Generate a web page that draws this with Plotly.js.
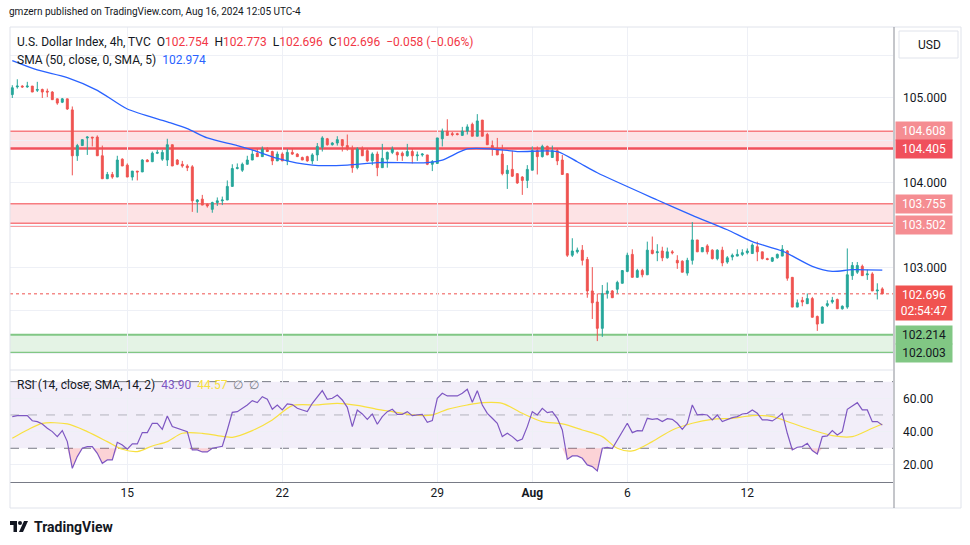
<!DOCTYPE html>
<html>
<head>
<meta charset="utf-8">
<script src="https://cdn.plot.ly/plotly-3.0.1.min.js"></script>
<style>
  html, body { margin: 0; padding: 0; background: #fff; }
  #chart { width: 970px; height: 545px; }
</style>
</head>
<body>
<div id="chart"></div>
<script>
// 4h candles, Jul 10 -> Aug 16 2024
const opens = [105.04,105.13,105.14,105.13,105.14,105.09,105.10,105.08,105.07,104.99,104.95,104.99,104.86,104.32,104.44,104.53,104.54,104.54,104.32,104.05,
  104.10,104.07,104.28,104.21,104.07,104.14,104.13,104.27,104.25,104.35,104.28,104.27,104.45,104.27,104.22,104.20,104.19,103.78,103.81,103.75,
  103.69,103.77,103.79,103.80,103.96,104.17,104.15,104.22,104.27,104.35,104.31,104.39,104.37,104.26,104.34,104.26,104.36,104.34,104.30,104.31,
  104.26,104.33,104.42,104.52,104.45,104.47,104.51,104.44,104.40,104.18,104.40,104.38,104.26,104.34,104.18,104.28,104.36,104.36,104.35,104.32,
  104.37,104.32,104.33,104.33,104.22,104.23,104.52,104.61,104.58,104.58,104.56,104.61,104.69,104.55,104.74,104.57,104.44,104.41,104.34,104.11,
  104.16,104.11,104.07,104.03,104.15,104.38,104.31,104.43,104.30,104.38,104.27,104.11,103.15,103.19,103.21,103.10,102.73,102.60,102.29,102.70,
  102.73,102.75,102.82,102.96,103.16,102.89,102.97,102.92,103.21,103.18,103.20,103.12,103.19,103.09,103.08,102.94,103.09,103.33,103.19,103.26,
  103.21,103.11,103.21,103.07,103.13,103.14,103.16,103.18,103.17,103.25,103.19,103.11,103.08,103.12,103.14,103.20,102.89,102.54,102.62,102.58,
  102.64,102.43,102.35,102.56,102.60,102.63,102.52,102.54,102.91,102.95,103.02,102.92,102.93,102.73,102.754];
const highs = [105.15,105.22,105.15,105.19,105.14,105.19,105.11,105.11,105.08,104.99,105.00,104.99,104.90,104.46,104.51,104.55,104.54,104.56,104.44,104.13,
  104.13,104.32,104.29,104.23,104.14,104.14,104.28,104.28,104.37,104.39,104.39,104.52,104.45,104.28,104.26,104.22,104.21,103.81,103.86,103.76,
  103.78,103.83,103.84,104.03,104.22,104.23,104.24,104.32,104.39,104.40,104.43,104.42,104.38,104.37,104.36,104.40,104.41,104.35,104.31,104.32,
  104.35,104.47,104.55,104.53,104.48,104.55,104.51,104.57,104.44,104.42,104.43,104.40,104.36,104.37,104.46,104.37,104.43,104.37,104.37,104.46,
  104.40,104.37,104.35,104.33,104.27,104.53,104.64,104.75,104.60,104.59,104.66,104.69,104.71,104.81,104.74,104.59,104.50,104.53,104.45,104.21,
  104.38,104.11,104.08,104.21,104.43,104.43,104.45,104.44,104.44,104.40,104.33,104.11,103.35,103.24,103.27,103.13,103.01,102.70,102.80,102.83,
  102.74,102.85,102.97,103.18,103.22,102.99,102.99,103.31,103.37,103.28,103.25,103.24,103.21,103.15,103.09,103.12,103.54,103.33,103.24,103.28,
  103.22,103.22,103.25,103.14,103.17,103.22,103.22,103.23,103.29,103.31,103.19,103.12,103.13,103.17,103.27,103.21,102.89,102.63,102.66,102.70,
  102.66,102.44,102.55,102.62,102.66,102.64,102.56,103.23,103.07,103.07,103.04,102.98,102.95,102.82,102.773];
const lows = [105.00,105.11,105.12,105.12,105.07,105.07,105.00,105.01,104.98,104.92,104.94,104.86,104.09,104.26,104.44,104.33,104.43,104.32,104.05,104.05,
  104.05,104.07,104.20,104.07,104.03,104.03,104.13,104.25,104.25,104.34,104.26,104.20,104.20,104.21,104.18,104.14,103.66,103.65,103.74,103.71,
  103.65,103.73,103.74,103.80,103.96,104.16,104.13,104.22,104.27,104.31,104.31,104.37,104.21,104.26,104.26,104.21,104.33,104.31,104.27,104.25,
  104.22,104.26,104.37,104.44,104.44,104.44,104.37,104.38,104.12,104.16,104.32,104.25,104.21,104.08,104.18,104.18,104.34,104.26,104.26,104.31,
  104.23,104.26,104.31,104.21,104.14,104.23,104.43,104.56,104.55,104.56,104.56,104.57,104.55,104.55,104.55,104.45,104.32,104.33,104.09,103.93,
  104.07,103.99,103.86,103.94,104.15,104.10,104.30,104.33,104.30,104.21,104.10,103.13,103.13,103.17,103.03,102.65,102.40,102.14,102.19,102.64,
  102.65,102.70,102.82,102.95,102.89,102.89,102.89,102.92,103.16,103.08,103.08,103.11,103.16,102.99,102.95,102.91,103.04,103.19,103.19,103.16,
  103.10,103.09,103.02,103.05,103.09,103.14,103.14,103.16,103.17,103.08,103.10,103.09,103.07,103.11,103.14,102.85,102.54,102.54,102.55,102.58,
  102.42,102.26,102.35,102.54,102.58,102.52,102.51,102.52,102.86,102.93,102.91,102.86,102.73,102.63,102.696];
const closes = [105.12,105.14,105.13,105.14,105.07,105.10,105.07,105.07,104.98,104.94,104.99,104.87,104.32,104.44,104.51,104.54,104.53,104.32,104.05,104.10,
  104.07,104.27,104.20,104.07,104.14,104.13,104.27,104.25,104.35,104.36,104.36,104.45,104.20,104.22,104.20,104.18,103.79,103.80,103.74,103.73,
  103.77,103.79,103.80,103.96,104.17,104.18,104.22,104.27,104.34,104.31,104.40,104.37,104.26,104.34,104.26,104.36,104.34,104.31,104.27,104.26,
  104.33,104.43,104.53,104.45,104.47,104.51,104.44,104.40,104.18,104.40,104.32,104.26,104.34,104.18,104.29,104.36,104.40,104.33,104.32,104.37,
  104.32,104.33,104.34,104.22,104.25,104.53,104.61,104.56,104.57,104.57,104.61,104.66,104.55,104.73,104.55,104.45,104.40,104.33,104.11,104.15,
  104.08,104.00,104.03,104.16,104.38,104.31,104.43,104.33,104.38,104.26,104.10,103.15,103.20,103.21,103.09,102.73,102.59,102.29,102.70,102.73,
  102.65,102.83,102.97,103.15,102.89,102.97,102.92,103.21,103.17,103.19,103.12,103.19,103.18,103.06,102.95,103.09,103.33,103.19,103.24,103.19,
  103.11,103.21,103.06,103.12,103.15,103.16,103.18,103.20,103.27,103.19,103.11,103.10,103.12,103.16,103.22,102.88,102.54,102.59,102.60,102.64,
  102.42,102.34,102.54,102.58,102.62,102.52,102.55,102.92,103.03,103.03,102.91,102.93,102.73,102.74,102.696];

// SMA(50) overlay
const smaIdx = [0,5,11,17,23,31,35,39,45,49,53,60,67,73,83,86,91,96,101,109,113,117,129,136,143,148,154,160,164,168,174];
const smaVal = [105.44,105.33,105.24,105.09,104.87,104.72,104.64,104.53,104.44,104.37,104.29,104.21,104.21,104.24,104.24,104.27,104.40,104.40,104.37,104.37,104.25,104.12,103.80,103.62,103.45,103.31,103.20,103.02,102.96,102.98,102.974];

// RSI(14), one value per bar
const rsiVals = [49,49.6,49.6,49.6,46.5,46,44.6,42,40,37,40.6,34,18,25,30,31,31,27,21,23,
  23,33.6,32,29.4,32.6,32.6,39.4,39.4,45,45,41.4,49.4,43,42,41,40,29,29,27.8,27.8,
  30,30.4,31.2,41,51.6,52,54,56,58.6,57.4,61,59.4,53.4,56,53,56.6,56.2,54,53,52,
  57,61,64.6,59.4,60,62,59,54.6,43,53,50.6,47.4,50.6,44.4,49,52,53.4,50.4,50.4,52,
  49.6,50,50.4,45.6,46.6,60,63,61.4,61.4,61.4,63,65.4,57.6,64.6,56,51,48,45,37,39,
  37,34.4,35.6,43,52,50,54,51.4,52,48,41,23.4,25.4,25.4,24,20,19,16.4,30,30.6,
  29.8,35,39.4,45,39.4,40.6,40.4,48,47.4,47.8,46,47.8,47.4,45,41.4,45,56,50,50.4,50,
  47,50,46,47.4,48.4,49,50.6,51,53,51,47,47,46.4,48.4,51,39,29,30.6,31,33,
  28.6,26.6,37,37.4,40.6,38,40,53.4,55.4,57.4,53,53,46,46,43.9];
// RSI-based MA (14), sampled
const rsiMaIdx = [0,3,6,11,15,19,22,25,28,31,34,38,41,44,48,52,56,61,65,69,73,76,80,84,87,91,94,98,102,106,110,114,118,121,124,128,132,136,140,144,148,152,156,160,164,168,172,174];
const rsiMaVal = [36,41,45,44.6,40,34,29.4,28,31.4,34,39,39,37.6,36.6,40.6,47,55.6,56,57,55.8,53.4,52,50,50,53.4,56,57.4,57,51,46,44.6,41,37,30,28.4,34,41,45,47.4,48,49.6,49,45,41,37.6,37,42,44.57];

const tickIdx = [23, 54, 85, 104, 123, 147];
const tickLbl = ['15', '22', '29', '<b>Aug</b>', '6', '12'];

const redZones = [[104.405, 104.608], [103.525, 103.755]];
const greenZone = [102.003, 102.214];
const extraLine = 103.495;
const lastPrice = 102.696;

const bars = opens.map((_, i) => i);

// pixel -> paper helpers for the frame decorations
const px = (x) => (x - 10) / 883;
const py = (y) => (482 - y) / 455;

const FONT = 'Roboto, "Liberation Sans", sans-serif';
const RED = '#ef5350';
const GREEN = '#26a69a';

const traces = [
  {
    type: 'candlestick', x: bars, open: opens, high: highs, low: lows, close: closes,
    increasing: { line: { color: GREEN, width: 1 }, fillcolor: GREEN },
    decreasing: { line: { color: RED, width: 1 }, fillcolor: RED },
    whiskerwidth: 0, hoverinfo: 'skip', xaxis: 'x', yaxis: 'y'
  },
  {
    type: 'scatter', mode: 'lines', x: smaIdx, y: smaVal,
    line: { color: '#2962ff', width: 1.3, shape: 'spline', smoothing: 0.7 },
    xaxis: 'x', yaxis: 'y', hoverinfo: 'skip'
  },
  {
    type: 'scatter', mode: 'lines', x: bars, y: bars.map(() => 30),
    line: { width: 0 }, xaxis: 'x', yaxis: 'y2', hoverinfo: 'skip'
  },
  {
    type: 'scatter', mode: 'lines', x: bars, y: rsiVals.map(v => Math.min(v, 30)),
    line: { width: 0 }, fill: 'tonexty', fillcolor: 'rgba(242,54,69,0.22)',
    xaxis: 'x', yaxis: 'y2', hoverinfo: 'skip'
  },
  {
    type: 'scatter', mode: 'lines', x: rsiMaIdx, y: rsiMaVal,
    line: { color: '#f8e040', width: 1.2, shape: 'spline', smoothing: 0.8 },
    xaxis: 'x', yaxis: 'y2', hoverinfo: 'skip'
  },
  {
    type: 'scatter', mode: 'lines', x: bars, y: rsiVals,
    line: { color: '#7e57c2', width: 1.2 },
    xaxis: 'x', yaxis: 'y2', hoverinfo: 'skip'
  }
];

const hline = (y, color, width, dash, yref) => ({
  type: 'line', xref: 'paper', x0: 0, x1: 1, yref: yref || 'y', y0: y, y1: y,
  line: { color, width, dash: dash || 'solid' }, layer: 'between'
});

const shapes = [];
redZones.forEach(z => {
  shapes.push({ type: 'rect', xref: 'paper', x0: 0, x1: 1, yref: 'y', y0: z[0], y1: z[1],
    fillcolor: 'rgba(242,54,69,0.14)', line: { width: 0 }, layer: 'between' });
});
shapes.push(hline(104.608, '#f77c80', 1.5));
shapes.push(hline(104.405, '#f0525c', 2.5));
shapes.push(hline(103.755, '#f77c80', 1.5));
shapes.push(hline(103.525, '#f77c80', 1.5));
shapes.push(hline(extraLine, '#f77c80', 1.5));
shapes.push({ type: 'rect', xref: 'paper', x0: 0, x1: 1, yref: 'y', y0: greenZone[0], y1: greenZone[1],
  fillcolor: 'rgba(76,175,80,0.15)', line: { width: 0 }, layer: 'between' });
shapes.push(hline(greenZone[0], '#81c784', 2));
shapes.push(hline(greenZone[1], '#81c784', 2));
shapes.push(hline(lastPrice, RED, 1, 'dot'));
// RSI band + levels
shapes.push({ type: 'rect', xref: 'paper', x0: 0, x1: 1, yref: 'y2', y0: 30, y1: 70,
  fillcolor: 'rgba(126,87,194,0.1)', line: { width: 0 }, layer: 'below' });
shapes.push(hline(70, '#787b86', 1, 'dash', 'y2'));
shapes.push(hline(50, 'rgba(120,123,134,0.5)', 1, 'dash', 'y2'));
shapes.push(hline(30, '#787b86', 1, 'dash', 'y2'));
// frame, pane separator, price scale line
shapes.push({ type: 'rect', xref: 'paper', yref: 'paper', x0: 0, x1: px(961), y0: py(508), y1: 1,
  line: { color: '#e0e3eb', width: 1 }, layer: 'above' });
shapes.push({ type: 'line', xref: 'paper', yref: 'paper', x0: 0, x1: 1, y0: py(370), y1: py(370),
  line: { color: '#e0e3eb', width: 1 } });
shapes.push({ type: 'line', xref: 'paper', yref: 'paper', x0: px(894), x1: px(894), y0: py(508), y1: 1,
  line: { color: '#8a8d96', width: 1 } });
// USD button
shapes.push({ type: 'rect', xref: 'paper', yref: 'paper', x0: px(899), x1: px(958), y0: py(58), y1: py(31),
  line: { color: '#e0e3eb', width: 1 }, fillcolor: '#fff' });
// TradingView logo mark
shapes.push({ type: 'rect', xref: 'paper', yref: 'paper', x0: px(10), x1: px(17), y0: py(525), y1: py(521),
  line: { width: 0 }, fillcolor: '#131722' });
shapes.push({ type: 'rect', xref: 'paper', yref: 'paper', x0: px(13.5), x1: px(17), y0: py(532), y1: py(521),
  line: { width: 0 }, fillcolor: '#131722' });
shapes.push({ type: 'circle', xref: 'paper', yref: 'paper', x0: px(18), x1: px(22), y0: py(525), y1: py(521),
  line: { width: 0 }, fillcolor: '#131722' });
shapes.push({ type: 'path', xref: 'paper', yref: 'paper',
  path: `M ${px(19)} ${py(532)} L ${px(24)} ${py(521)} L ${px(28)} ${py(521)} L ${px(23)} ${py(532)} Z`,
  line: { width: 0 }, fillcolor: '#131722' });

const tag = (y, text, bg, color, extra) => Object.assign({
  xref: 'paper', x: 1, xanchor: 'left', xshift: 2, yref: 'y', y, yanchor: 'middle',
  text, bgcolor: bg, showarrow: false, borderpad: 2, width: 52,
  font: { family: FONT, size: 12, color }
}, extra || {});

const txt = (x, y, text, size, color, extra) => Object.assign({
  xref: 'paper', yref: 'paper', x: px(x), y: py(y), xanchor: 'left', yanchor: 'middle',
  text, showarrow: false, font: { family: FONT, size, color }
}, extra || {});

const annotations = [
  txt(7, 12, 'gmzern published on TradingView.com, Aug 16, 2024 12:05 UTC-4', 10, '#131722'),
  txt(15, 42, 'U.S. Dollar Index, 4h, TVC&nbsp;&nbsp;O<span style="color:#f23645">102.754</span>&nbsp;&nbsp;H<span style="color:#f23645">102.773</span>&nbsp;&nbsp;L<span style="color:#f23645">102.696</span>&nbsp;&nbsp;C<span style="color:#f23645">102.696</span>&nbsp;&nbsp;<span style="color:#f23645">\u22120.058 (\u22120.06%)</span>', 12, '#131722'),
  txt(15, 60, 'SMA (50, close, 0, SMA, 5)&nbsp;&nbsp;<span style="color:#2962ff">102.974</span>', 12, '#131722'),
  txt(15, 385, 'RSI (14, close, SMA, 14, 2)&nbsp;&nbsp;<span style="color:#7e57c2">43.90</span>&nbsp;&nbsp;<span style="color:#f8e040">44.57</span>&nbsp;&nbsp;<span style="color:#787b86">\u2205&nbsp;&nbsp;\u2205</span>', 12, '#131722'),
  txt(916, 45, 'USD', 12, '#131722'),
  txt(32, 527, '<b>TradingView</b>', 14, '#131722'),
  tag(104.608, '104.608', '#f58d92', '#fff'),
  tag(104.405, '104.405', '#f0505c', '#fff'),
  tag(103.755, '103.755', '#f58d92', '#fff'),
  tag(103.502, '103.502', '#f58d92', '#fff'),
  tag(lastPrice, '102.696<br>02:54:47', '#f05350', '#fff', { yanchor: 'top', yshift: 9 }),
  tag(102.214, '102.214', '#81c784', '#131722'),
  tag(102.003, '102.003', '#81c784', '#131722')
];

const layout = {
  width: 970, height: 545,
  margin: { l: 10, r: 77, t: 27, b: 63 },
  paper_bgcolor: '#fff', plot_bgcolor: '#fff',
  showlegend: false,
  boxgap: 0.45,
  font: { family: FONT, color: '#131722' },
  xaxis: {
    range: [-0.46, 176.14], anchor: 'y2',
    tickmode: 'array', tickvals: tickIdx, ticktext: tickLbl,
    showgrid: true, gridcolor: '#eef0f6', zeroline: false,
    showline: true, linecolor: '#787b86', ticks: '',
    tickfont: { size: 12, color: '#131722' },
    rangeslider: { visible: false }, fixedrange: true
  },
  yaxis: {
    domain: [0.2484, 1], range: [101.812, 105.835], side: 'right',
    tickmode: 'array',
    tickvals: [102, 102.5, 103, 103.5, 104, 104.5, 105, 105.5],
    ticktext: ['', '', '103.000', '', '104.000', '', '105.000', ''],
    showgrid: true, gridcolor: '#eef0f6', zeroline: false, ticks: '',
    ticklabelstandoff: 9, tickfont: { size: 12, color: '#131722' }, fixedrange: true
  },
  yaxis2: {
    domain: [0, 0.244], range: [9.76, 76.4], side: 'right',
    tickmode: 'array', tickvals: [20, 40, 60], ticktext: ['20.00', '40.00', '60.00'],
    showgrid: true, gridcolor: '#eef0f6', zeroline: false, ticks: '',
    ticklabelstandoff: 9, tickfont: { size: 12, color: '#131722' }, fixedrange: true
  },
  shapes,
  annotations
};

Plotly.newPlot('chart', traces, layout, { displayModeBar: false, staticPlot: true });
</script>
</body>
</html>
